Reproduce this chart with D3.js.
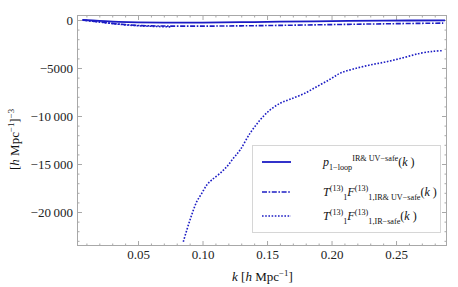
<!DOCTYPE html>
<html>
<head>
<meta charset="utf-8">
<script src="https://cdn.jsdelivr.net/npm/d3@7"></script>
<style>
  body { margin: 0; background: #fff; }
  svg { display: block; font-family: "Liberation Serif", "DejaVu Serif", serif; }
</style>
</head>
<body>
<svg id="chart" width="458" height="287"></svg>
<script>
// ---------------------------------------------------------------
//  Data
// ---------------------------------------------------------------

// p_1-loop (IR & UV safe), solid
const kSolid = [0.007, 0.02, 0.035, 0.05, 0.07, 0.10, 0.13, 0.16, 0.20, 0.24, 0.288];
const pSolid = [0, -90, -190, -250, -280, -270, -230, -180, -120, -70, -40];

// T F (IR & UV safe), dash-dot
const kDashDot = [0.007, 0.02, 0.035, 0.05, 0.07, 0.10, 0.13, 0.16, 0.20, 0.24, 0.288];
const pDashDot = [0, -200, -420, -570, -630, -640, -610, -560, -480, -400, -320];

// T F (IR safe), dotted: small-k branch near zero, then the branch coming up from below
const kDottedUpper = [0.007, 0.02, 0.035, 0.05, 0.065, 0.075];
const pDottedUpper = [0, -210, -440, -600, -680, -720];
const kDottedLower = [0.0851, 0.0878, 0.0903, 0.0929, 0.0955, 0.0994, 0.1033, 0.1071, 0.1136,
                      0.1188, 0.1239, 0.1291, 0.1368, 0.1446, 0.1523, 0.1601, 0.1678, 0.1781,
                      0.1885, 0.1988, 0.2066, 0.2169, 0.2298, 0.2428, 0.2557, 0.2686, 0.2789, 0.2862];
const pDottedLower = [-23094, -21875, -20833, -19792, -18924, -18052, -17188, -16667, -15969,
                      -15281, -14406, -13542, -11802, -10417, -9375, -8677, -8260, -7708,
                      -6948, -6177, -5552, -5104, -4688, -4344, -3927, -3469, -3260, -3198];

const xMajorTicks = [0.05, 0.10, 0.15, 0.20, 0.25];
const xTickLabels = ["0.05", "0.10", "0.15", "0.20", "0.25"];
const yMajorTicks = [0, -5000, -10000, -15000, -20000];
const yTickLabels = ["0", "\u22125000", "\u221210\u2009000", "\u221215\u2009000", "\u221220\u2009000"];

// ---------------------------------------------------------------
//  Layout
// ---------------------------------------------------------------

const svg = d3.select("#chart");
const frame = { left: 77, right: 447, top: 15, bottom: 246 };
const lineColor = "#1c1cc4";
const frameColor = "#a8a8a8";

const x = d3.scaleLinear().domain([0.0027, 0.2895]).range([frame.left, frame.right]);
const y = d3.scaleLinear().domain([520, -23540]).range([frame.top, frame.bottom]);

const xMinor = d3.range(1, 29).map(i => i / 100).filter(v => !xMajorTicks.some(t => Math.abs(t - v) < 1e-9));
const yMinor = d3.range(0, 24).map(i => -i * 1000).filter(v => v % 5000 !== 0);

// clip for curves
svg.append("defs").append("clipPath").attr("id", "plotClip")
    .append("rect")
    .attr("x", frame.left).attr("y", frame.top)
    .attr("width", frame.right - frame.left).attr("height", frame.bottom - frame.top);

// ---------------------------------------------------------------
//  Axes (frame with inward ticks on all sides)
// ---------------------------------------------------------------

function styleAxis(g) {
    g.select(".domain").remove();
    g.selectAll("line").attr("stroke", frameColor);
    g.selectAll("text")
        .attr("fill", "#222")
        .attr("font-size", 13)
        .attr("font-family", "Liberation Serif, serif");
}

function addAxis(axisFn, scale, ticks, size, translate, labels) {
    const ax = axisFn(scale).tickValues(ticks).tickSize(size).tickPadding(4)
        .tickFormat((d, i) => labels ? labels[i] : "");
    svg.append("g")
        .attr("transform", translate)
        .call(ax)
        .call(styleAxis);
}

// bottom
addAxis(d3.axisBottom, x, xMajorTicks, -5, `translate(0,${frame.bottom})`, xTickLabels);
addAxis(d3.axisBottom, x, xMinor, -2.5, `translate(0,${frame.bottom})`, null);
// top
addAxis(d3.axisTop, x, xMajorTicks, -5, `translate(0,${frame.top})`, null);
addAxis(d3.axisTop, x, xMinor, -2.5, `translate(0,${frame.top})`, null);
// left
addAxis(d3.axisLeft, y, yMajorTicks, -5, `translate(${frame.left},0)`, yTickLabels);
addAxis(d3.axisLeft, y, yMinor, -2.5, `translate(${frame.left},0)`, null);
// right
addAxis(d3.axisRight, y, yMajorTicks, -5, `translate(${frame.right},0)`, null);
addAxis(d3.axisRight, y, yMinor, -2.5, `translate(${frame.right},0)`, null);

svg.append("rect")
    .attr("x", frame.left + 0.5).attr("y", frame.top + 0.5)
    .attr("width", frame.right - frame.left - 1).attr("height", frame.bottom - frame.top - 1)
    .attr("fill", "none")
    .attr("stroke", frameColor)
    .attr("stroke-width", 1);

// ---------------------------------------------------------------
//  Curves
// ---------------------------------------------------------------

const line = d3.line()
    .x(d => x(d[0]))
    .y(d => y(d[1]))
    .curve(d3.curveCatmullRom.alpha(0.5));

const plot = svg.append("g").attr("clip-path", "url(#plotClip)");

function drawCurve(ks, vs, dash, width) {
    plot.append("path")
        .datum(d3.zip(ks, vs))
        .attr("d", line)
        .attr("fill", "none")
        .attr("stroke", lineColor)
        .attr("stroke-width", width)
        .attr("stroke-dasharray", dash);
}

drawCurve(kDottedUpper, pDottedUpper, "1.6,1.6", 1.6);
drawCurve(kDottedLower, pDottedLower, "1.6,1.6", 1.6);
drawCurve(kDashDot, pDashDot, "5,1.6,1.6,1.6", 1.6);
drawCurve(kSolid, pSolid, null, 1.8);

// ---------------------------------------------------------------
//  Axis titles
// ---------------------------------------------------------------

// rich text helper: segments of [text, italic?, position]
function richText(g, segs, size) {
    const small = size * 0.68;
    const offsets = { base: 0, sub: size * 0.3, sup: -size * 0.42 };
    let prev = 0;
    const t = g.append("text").attr("font-size", size).attr("fill", "#111");
    segs.forEach(([str, italic, pos]) => {
        const off = offsets[pos || "base"];
        t.append("tspan")
            .attr("dy", off - prev)
            .attr("font-style", italic ? "italic" : "normal")
            .attr("font-size", pos && pos !== "base" ? small : size)
            .text(str);
        prev = off;
    });
    return t;
}

const xTitle = svg.append("g").attr("transform", "translate(232,281)");
richText(xTitle, [["k", true], [" [", false], ["h", true], ["  Mpc", false], ["\u22121", false, "sup"], ["]", false]], 13);

const yTitle = svg.append("g").attr("transform", "translate(19,170) rotate(-90)");
richText(yTitle, [["[", false], ["h", true], ["  Mpc", false], ["\u22121", false, "sup"], ["]", false], ["\u22123", false, "sup"]], 13);

// ---------------------------------------------------------------
//  Legend
// ---------------------------------------------------------------

const legend = svg.append("g");
legend.append("rect")
    .attr("x", 252.5).attr("y", 145.5)
    .attr("width", 188).attr("height", 87)
    .attr("fill", "#fff")
    .attr("stroke", "#d6d6d6");

const legendItems = [
    { dash: null, w: 1.8, segs: [["p", true], ["1\u2212loop", false, "sub"], ["IR& UV\u2212safe", false, "sup"], ["(", false], ["k", true], [" )", false]] },
    { dash: "5,1.6,1.6,1.6", w: 1.6, segs: [["T", true], ["(13)", false, "sup"], ["1", false, "sub"], ["F", true], ["(13)", false, "sup"], ["1,IR& UV\u2212safe", false, "sub"], ["(", false], ["k", true], [" )", false]] },
    { dash: "1.6,1.6", w: 1.6, segs: [["T", true], ["(13)", false, "sup"], ["1", false, "sub"], ["F", true], ["(13)", false, "sup"], ["1,IR\u2212safe", false, "sub"], ["(", false], ["k", true], [" )", false]] }
];
const legendY = [162, 192, 216];

legendItems.forEach((item, i) => {
    legend.append("line")
        .attr("x1", 262).attr("x2", 291)
        .attr("y1", legendY[i]).attr("y2", legendY[i])
        .attr("stroke", lineColor)
        .attr("stroke-width", item.w)
        .attr("stroke-dasharray", item.dash);
    const g = legend.append("g").attr("transform", `translate(323,${legendY[i] + 4})`);
    richText(g, item.segs, 12);
});
</script>
</body>
</html>
